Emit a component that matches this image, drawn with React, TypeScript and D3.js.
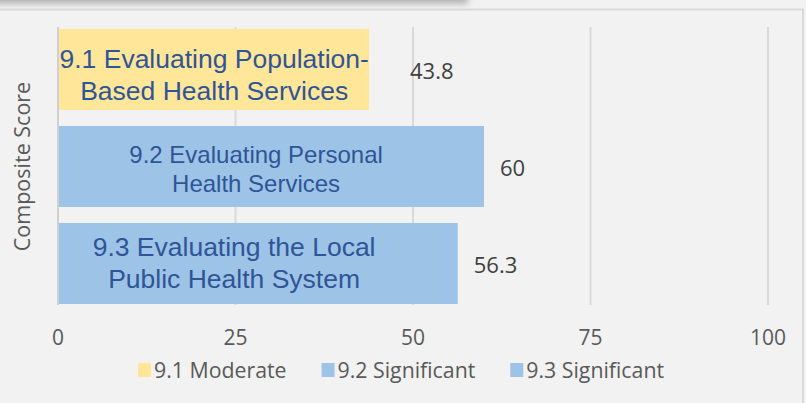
import React, { useEffect, useRef } from 'react';
import * as d3 from 'd3';

// data
const categories = ['9.1', '9.2', '9.3'];
const values = [43.8, 60, 56.3];
const valueLabels = ['43.8', '60', '56.3'];
const barLabelLines = [
  ['9.1 Evaluating Population-', 'Based Health Services'],
  ['9.2 Evaluating Personal', 'Health Services'],
  ['9.3 Evaluating the Local', 'Public Health System'],
];
const legendLabels = ['9.1 Moderate', '9.2 Significant', '9.3 Significant'];
const xTicks = [0, 25, 50, 75, 100];
const barColors = ['#FFE699', '#9DC3E6', '#9DC3E6'];

// text box placement (the labels were placed by hand in the original)
const labelCenter = [22, 27.9, 24.8];
const labelFont = [26.5, 24, 26.5];
const labelDy = [5, 2.5, -1];
const valueGap = [41, 16, 16];

const W = 806;
const H = 403;
const grayFont = '"Open Sans", "Noto Sans", sans-serif';

function App() {
  const svgRef = useRef<SVGSVGElement>(null);

  useEffect(() => {
    const svg = d3.select(svgRef.current);
    svg.selectAll('*').remove();

    const x = d3.scaleLinear().domain([0, 100]).range([58, 768]);
    const y = d3.scaleBand().domain(categories).range([29, 304]).paddingInner(0.165).paddingOuter(0);
    const gridTop = 27;
    const gridBottom = 305;

    // background
    svg.append('rect').attr('width', W).attr('height', H).attr('fill', '#f2f2f2');

    // top shadow from the element above
    const defs = svg.append('defs');
    defs.append('filter').attr('id', 'blur').attr('x', '-20%').attr('y', '-200%').attr('width', '140%').attr('height', '500%')
      .append('feGaussianBlur').attr('stdDeviation', 3);
    svg.append('rect')
      .attr('x', -20).attr('y', -12).attr('width', 488).attr('height', 16)
      .attr('fill', '#b4b4b4').attr('filter', 'url(#blur)');

    // chart border
    svg.append('path')
      .attr('d', `M0,9.5H803V${H}`)
      .attr('fill', 'none').attr('stroke', '#d9d9d9').attr('stroke-width', 2);

    // gridlines
    svg.append('g').selectAll('line')
      .data(xTicks.slice(1))
      .join('line')
      .attr('x1', d => x(d)).attr('x2', d => x(d))
      .attr('y1', gridTop).attr('y2', gridBottom)
      .attr('stroke', '#d9d9d9').attr('stroke-width', 2);

    // axis line at 0
    svg.append('line')
      .attr('x1', x(0)).attr('x2', x(0)).attr('y1', gridTop).attr('y2', gridBottom)
      .attr('stroke', '#d0d0d0').attr('stroke-width', 2);

    // bars
    svg.append('g').selectAll('rect')
      .data(values)
      .join('rect')
      .attr('x', x(0) + 1)
      .attr('y', (_, i) => y(categories[i])!)
      .attr('width', d => x(d) - x(0) - 1)
      .attr('height', y.bandwidth())
      .attr('fill', (_, i) => barColors[i]);

    // bar text boxes
    barLabelLines.forEach((lines, i) => {
      const f = labelFont[i];
      const lh = f * 1.2;
      const cy = y(categories[i])! + y.bandwidth() / 2 + labelDy[i];
      const t = svg.append('text')
        .attr('x', x(labelCenter[i]))
        .attr('text-anchor', 'middle')
        .attr('font-family', '"Liberation Sans", Arial, sans-serif')
        .attr('font-size', f)
        .attr('fill', '#2F5597');
      lines.forEach((line, j) => {
        t.append('tspan')
          .attr('x', x(labelCenter[i]))
          .attr('y', cy - lh / 2 + f * 0.36 + j * lh)
          .text(line);
      });
    });

    // value labels
    svg.append('g').selectAll('text')
      .data(values)
      .join('text')
      .attr('x', (d, i) => x(d) + valueGap[i])
      .attr('y', (_, i) => y(categories[i])! + y.bandwidth() / 2 + 9.5)
      .attr('font-family', grayFont)
      .attr('font-size', 22)
      .attr('fill', '#404040')
      .text((_, i) => valueLabels[i]);

    // x tick labels
    svg.append('g').selectAll('text')
      .data(xTicks)
      .join('text')
      .attr('x', d => x(d))
      .attr('y', 344.5)
      .attr('text-anchor', 'middle')
      .attr('font-family', grayFont)
      .attr('font-size', 21)
      .attr('fill', '#595959')
      .text(d => String(d));

    // axis title
    svg.append('text')
      .attr('transform', `translate(29.5,166.5) rotate(-90)`)
      .attr('text-anchor', 'middle')
      .attr('font-family', grayFont)
      .attr('font-size', 21.5)
      .attr('fill', '#595959')
      .text('Composite Score');

    // legend
    const legend = svg.append('g');
    let lx = 138;
    legendLabels.forEach((label, i) => {
      legend.append('rect')
        .attr('x', lx).attr('y', 363).attr('width', 13).attr('height', 14)
        .attr('fill', barColors[i]);
      const t = legend.append('text')
        .attr('x', lx + 16)
        .attr('y', 377.5)
        .attr('font-family', grayFont)
        .attr('font-size', 21.3)
        .attr('fill', '#595959')
        .text(label);
      const w = (t.node() as SVGTextElement).getComputedTextLength();
      lx = lx + 16 + w + 35;
    });
  }, []);

  return (
    <svg
      ref={svgRef}
      width={W}
      height={H}
      style={{ position: 'absolute', left: 0, top: 0, display: 'block' }}
    />
  );
}

export default App;
